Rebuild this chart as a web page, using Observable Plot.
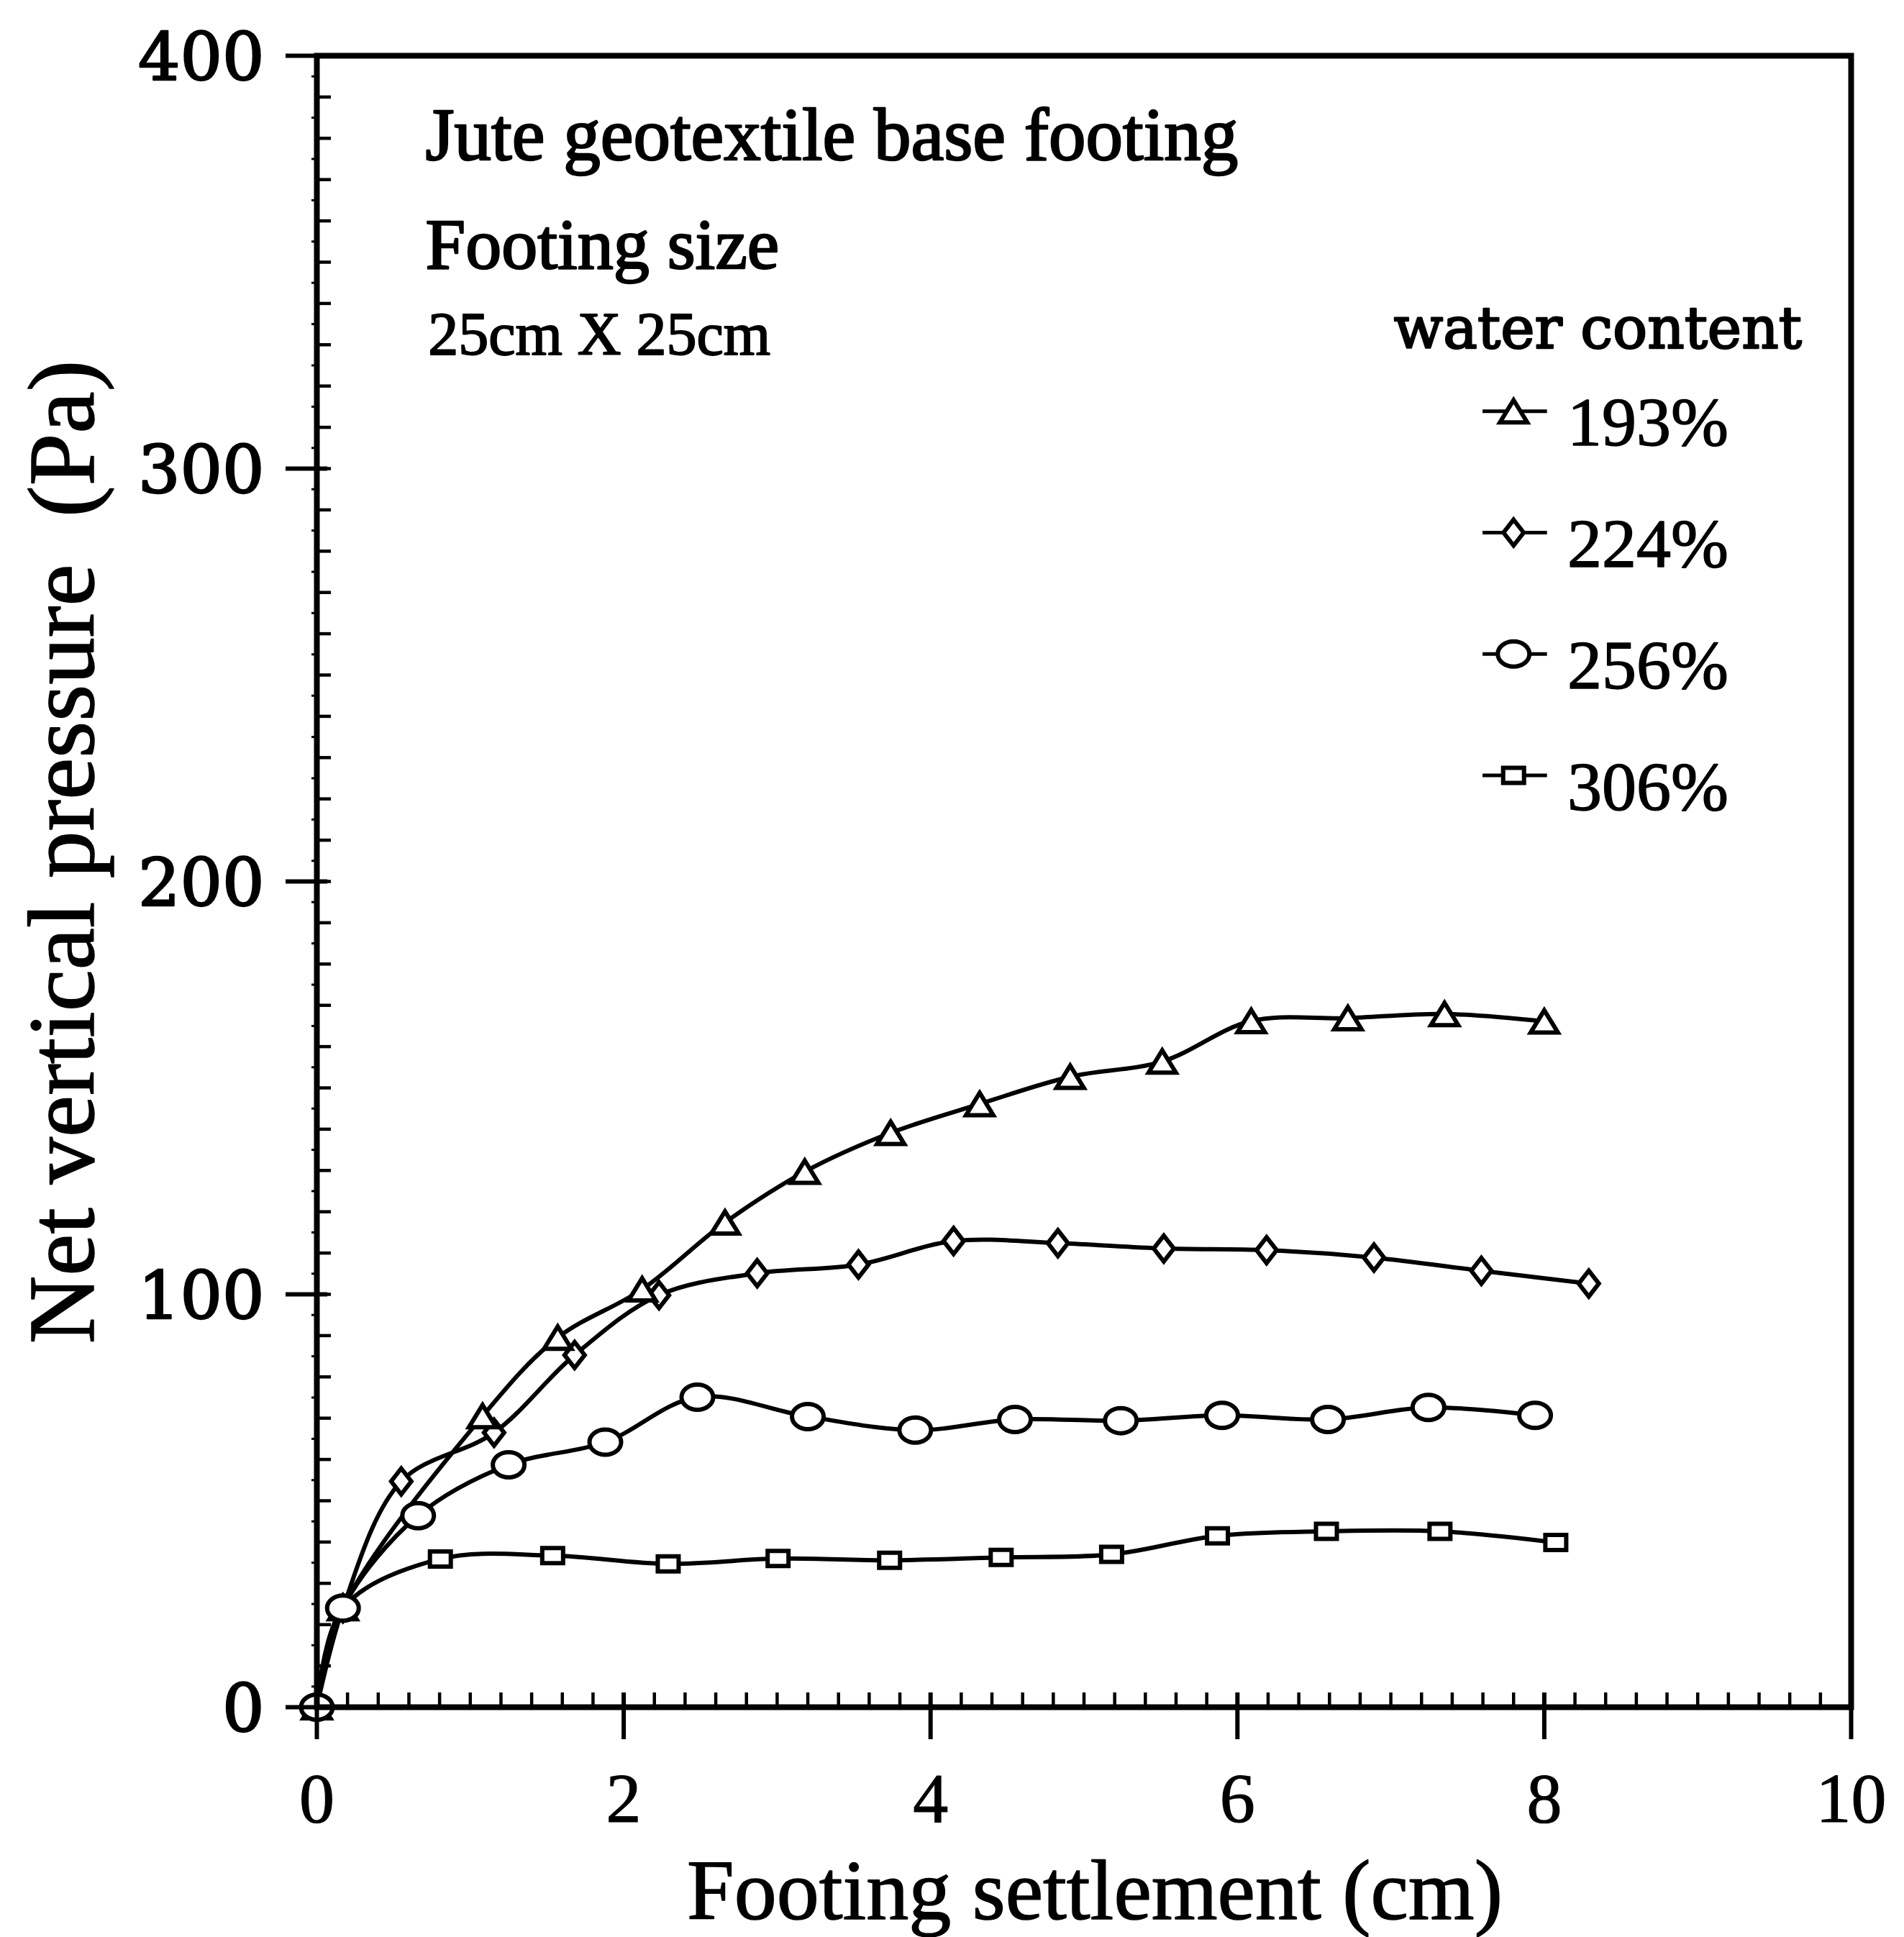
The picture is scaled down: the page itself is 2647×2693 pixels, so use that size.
<!DOCTYPE html>
<html><head><meta charset="utf-8">
<script src="https://cdn.jsdelivr.net/npm/d3@7"></script>
<script src="https://cdn.jsdelivr.net/npm/@observablehq/plot@0.6"></script>
<style>html,body{margin:0;padding:0;background:#fff;overflow:hidden}svg{display:block}</style>
</head><body><div id="chart"></div>
<script>
// ---- data ----
const seriesNames = ["193%", "224%", "256%", "306%"];
const settlement193 = [0, 0.17, 1.08, 1.57, 2.12, 2.66, 3.18, 3.74, 4.32, 4.91, 5.51, 6.09, 6.72, 7.35, 8.00];
const pressure193   = [0, 24, 70.5, 89.5, 101.2, 117.4, 129.7, 139.1, 146.1, 152.7, 156.4, 166.2, 166.9, 167.9, 166.1];
const settlement224 = [0, 0.17, 0.55, 1.155, 1.68, 2.23, 2.87, 3.53, 4.15, 4.83, 5.52, 6.19, 6.89, 7.59, 8.29];
const pressure224   = [0, 24, 54.7, 66.5, 85.3, 99.8, 105.1, 107.2, 112.9, 112.4, 111.1, 110.7, 108.9, 105.7, 102.6];
const settlement256 = [0, 0.17, 0.66, 1.25, 1.88, 2.48, 3.20, 3.90, 4.55, 5.24, 5.90, 6.59, 7.245, 7.94];
const pressure256   = [0, 24, 46.4, 58.7, 64.2, 75.1, 70.4, 67.1, 69.7, 69.4, 70.7, 69.7, 72.6, 70.7];
const settlement306 = [0, 0.17, 0.805, 1.537, 2.29, 3.006, 3.733, 4.46, 5.18, 5.87, 6.58, 7.32, 8.075];
const pressure306   = [0, 24, 35.9, 36.7, 34.7, 36.0, 35.6, 36.3, 37.0, 41.5, 42.6, 42.6, 39.9];
const xTicks = [0, 2, 4, 6, 8, 10];
const yTicks = [0, 100, 200, 300, 400];
const xTitle = "Footing settlement (cm)";
const yTitle = "Net vertical pressure  (Pa)";
const notes = ["Jute geotextile base footing", "Footing size", "25cm X 25cm"];
const legendTitle = "water content";

// ---- layout ----
const W = 2647, H = 2693, mL = 440, mR = 74, mT = 77, mB = 320;
const plotW = W - mL - mR, plotH = H - mT - mB;

const rows = [];
[[seriesNames[0], settlement193, pressure193],
 [seriesNames[1], settlement224, pressure224],
 [seriesNames[2], settlement256, pressure256],
 [seriesNames[3], settlement306, pressure306]].forEach(([s, xs, ys]) =>
  xs.forEach((x, i) => rows.push({s, x, y: ys[i]})));

// custom marker shapes (size = PI*r*r with r = 10)
const KAPPA = 0.5523;
const sc = size => Math.sqrt(size / (Math.PI * 100));
const ellipseSym = (w, h) => ({draw(c, size) {
  const s = sc(size), rx = w / 2 * s, ry = h / 2 * s;
  c.moveTo(rx, 0);
  c.bezierCurveTo(rx, KAPPA * ry, KAPPA * rx, ry, 0, ry);
  c.bezierCurveTo(-KAPPA * rx, ry, -rx, KAPPA * ry, -rx, 0);
  c.bezierCurveTo(-rx, -KAPPA * ry, -KAPPA * rx, -ry, 0, -ry);
  c.bezierCurveTo(KAPPA * rx, -ry, rx, -KAPPA * ry, rx, 0);
  c.closePath();
}});
const triSym = (w, h) => ({draw(c, size) {
  const s = sc(size);
  c.moveTo(0, -h / 2 * s); c.lineTo(w / 2 * s, h / 2 * s); c.lineTo(-w / 2 * s, h / 2 * s); c.closePath();
}});
const diaSym = (w, h) => ({draw(c, size) {
  const s = sc(size);
  c.moveTo(0, -h / 2 * s); c.lineTo(w / 2 * s, 0); c.lineTo(0, h / 2 * s); c.lineTo(-w / 2 * s, 0); c.closePath();
}});
const rectSym = (w, h) => ({draw(c, size) {
  const s = sc(size);
  c.rect(-w / 2 * s, -h / 2 * s, w * s, h * s);
}});
const sym = {
  "193%": triSym(38, 31),
  "224%": diaSym(28, 36),
  "256%": ellipseSym(44, 35),
  "306%": rectSym(29, 21)
};
const drawOrder = ["306%", "224%", "193%", "256%"];

const legY0 = 313.9, legStep = 29.4;
const leg = seriesNames.map((s, i) => ({s, y: legY0 - i * legStep}));

const serif = "Liberation Serif";
const wide = "DejaVu Serif";
const ink = {fill: "black", stroke: "black"};

const chart = Plot.plot({
  width: W, height: H,
  marginLeft: mL, marginRight: mR, marginTop: mT, marginBottom: mB,
  style: {background: "white", fontFamily: serif, color: "black"},
  x: {domain: [0, 10], axis: null},
  y: {domain: [0, 400], axis: null},
  marks: [
    Plot.line(rows, {x: "x", y: "y", z: "s", curve: "catmull-rom", stroke: "black", strokeWidth: 6}),
    ...drawOrder.map(s => Plot.dot(rows.filter(d => d.s === s),
      {x: "x", y: "y", r: 10, symbol: sym[s], fill: "white", stroke: "black", strokeWidth: 6})),
    // minor ticks
    Plot.tickY(d3.range(1, 40).map(i => i * 10), {insetRight: plotW - 20, stroke: "black", strokeWidth: 4.5}),
    Plot.tickY(d3.range(0, 40).map(i => i * 10 + 5), {insetRight: plotW - 7, dx: -7, stroke: "black", strokeWidth: 3}),
    Plot.tickX(d3.range(1, 50).map(i => i / 5), {insetTop: plotH - 20, stroke: "black", strokeWidth: 4.5}),
    // major ticks (outward 43/45 px, inward ~15/20 px)
    Plot.tickY(yTicks, {insetRight: plotW - 58, dx: -43, stroke: "black", strokeWidth: 6}),
    Plot.tickX(xTicks, {insetTop: plotH - 65, dy: 45, stroke: "black", strokeWidth: 6}),
    // tick labels
    Plot.text(yTicks, {x: 0, y: d => d, text: d => String(d), dx: -73, dy: 4, textAnchor: "end", lineAnchor: "middle",
      fontSize: 92, fontFamily: wide, ...ink, strokeWidth: 2.5}),
    Plot.text(xTicks, {x: d => d, y: 0, text: d => String(d), dy: 159, textAnchor: "middle", lineAnchor: "bottom",
      fontSize: 98, fontFamily: serif, ...ink, strokeWidth: 1.2}),
    Plot.frame({stroke: "black", strokeWidth: 8}),
    // axis titles
    Plot.text([yTitle], {frameAnchor: "left", dx: -311, dy: -41, rotate: -90, textAnchor: "middle", lineAnchor: "bottom",
      fontSize: 131, fontFamily: serif, ...ink, strokeWidth: 1.5}),
    Plot.text([xTitle], {frameAnchor: "bottom", dx: 15, dy: 294, textAnchor: "middle", lineAnchor: "bottom",
      fontSize: 118, fontFamily: serif, ...ink, strokeWidth: 1.5}),
    // annotations
    Plot.text([notes[0]], {x: 0.708, y: 374.8, textAnchor: "start", lineAnchor: "bottom", fontSize: 103, fontFamily: serif, ...ink, strokeWidth: 2.5}),
    Plot.text([notes[1]], {x: 0.708, y: 348.6, textAnchor: "start", lineAnchor: "bottom", fontSize: 100, fontFamily: serif, ...ink, strokeWidth: 2.5}),
    Plot.text([notes[2]], {x: 0.725, y: 327.7, textAnchor: "start", lineAnchor: "bottom", fontSize: 84, fontFamily: serif, ...ink, strokeWidth: 2}),
    // legend
    Plot.text([legendTitle], {x: 7.02, y: 329.1, textAnchor: "start", lineAnchor: "bottom", fontSize: 80, fontFamily: wide, ...ink, strokeWidth: 2.5}),
    Plot.ruleY(leg, {y: "y", x1: 7.60, x2: 8.02, stroke: "black", strokeWidth: 5}),
    ...leg.map(d => Plot.dot([d], {x: 7.80, y: "y", r: 10, symbol: sym[d.s], fill: "white", stroke: "black", strokeWidth: 6})),
    Plot.text(leg, {x: 8.15, y: d => d.y - 8.3, text: "s", textAnchor: "start", lineAnchor: "bottom", fontSize: 96, fontFamily: serif, ...ink, strokeWidth: 1.5})
  ]
});
document.getElementById("chart").appendChild(chart);
</script>
</body></html>
